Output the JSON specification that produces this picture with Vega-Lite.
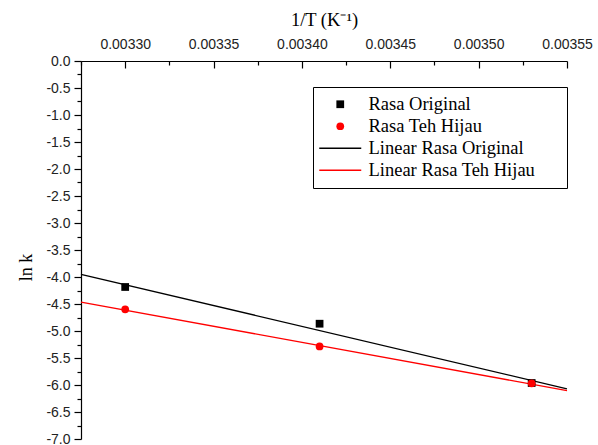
{
  "$schema": "https://vega.github.io/schema/vega-lite/v6.json",
  "width": 486,
  "height": 378,
  "autosize": "none",
  "padding": {"left": 81, "top": 61, "right": 31, "bottom": 6},
  "background": "white",
  "config": {
    "view": {"stroke": null},
    "axis": {"grid": false, "domainColor": "black", "tickColor": "black", "domainWidth": 1.2, "tickWidth": 1.2},
    "legend": {
      "symbolSize": 1764,
      "labelFont": "Liberation Serif",
      "labelFontSize": 18.5,
      "labelColor": "black",
      "labelLimit": 500,
      "labelOffset": 19,
      "symbolOffset": 10,
      "rowPadding": 3,
      "padding": 8,
      "strokeColor": "black",
      "symbolStrokeWidth": 1.3
    }
  },
  "layer": [
    {
      "data": {
        "values": [
          {"series": "Linear Rasa Original", "x": 0.003275, "y": -3.95},
          {"series": "Linear Rasa Original", "x": 0.00355, "y": -6.07},
          {"series": "Linear Rasa Teh Hijau", "x": 0.003275, "y": -4.465},
          {"series": "Linear Rasa Teh Hijau", "x": 0.00355, "y": -6.105}
        ]
      },
      "mark": {"type": "line", "strokeWidth": 1.3},
      "encoding": {
        "x": {
          "field": "x", "type": "quantitative",
          "scale": {"domain": [0.003275, 0.00355], "nice": false, "zero": false},
          "axis": {"orient": "top", "values": [0.003275, 0.003325, 0.003375, 0.003425, 0.003475, 0.003525], "labels": false, "domain": false, "tickSize": -4, "title": null}
        },
        "y": {
          "field": "y", "type": "quantitative",
          "scale": {"domain": [-7, 0], "nice": false, "zero": false},
          "axis": {"orient": "left", "values": [-0.25, -0.75, -1.25, -1.75, -2.25, -2.75, -3.25, -3.75, -4.25, -4.75, -5.25, -5.75, -6.25, -6.75], "labels": false, "domain": false, "tickSize": 4, "title": null}
        },
        "color": {
          "field": "series", "type": "nominal",
          "scale": {"domain": ["Rasa Original", "Rasa Teh Hijau", "Linear Rasa Original", "Linear Rasa Teh Hijau"], "range": ["black", "red", "black", "red"]},
          "legend": {
            "title": null, "orient": "none", "legendX": 232, "legendY": 26,
            "labelExpr": "datum.label + '\u00a0\u00a0\u00a0\u00a0\u00a0\u200b'",
            "encode": {"symbols": {"update": {
              "size": {"signal": "(datum.value == 'Rasa Original' || datum.value == 'Rasa Teh Hijau') ? 60 : 1764"},
              "fill": {"signal": "datum.value == 'Rasa Original' ? 'black' : (datum.value == 'Rasa Teh Hijau' ? 'red' : 'transparent')"},
              "stroke": {"signal": "(datum.value == 'Rasa Original' || datum.value == 'Linear Rasa Original') ? 'black' : 'red'"},
              "strokeWidth": {"signal": "(datum.value == 'Rasa Original' || datum.value == 'Rasa Teh Hijau') ? 0 : 1.3"},
              "opacity": {"value": 1}
            }}}
          }
        }
      }
    },
    {
      "data": {
        "values": [
          {"series": "Rasa Original", "x": 0.0033, "y": -4.185},
          {"series": "Rasa Original", "x": 0.00341, "y": -4.865},
          {"series": "Rasa Original", "x": 0.00353, "y": -5.963},
          {"series": "Rasa Teh Hijau", "x": 0.0033, "y": -4.598},
          {"series": "Rasa Teh Hijau", "x": 0.00341, "y": -5.285},
          {"series": "Rasa Teh Hijau", "x": 0.00353, "y": -5.968}
        ]
      },
      "mark": {"type": "point", "filled": true, "opacity": 1, "size": 60},
      "encoding": {
        "x": {
          "field": "x", "type": "quantitative",
          "axis": {
            "orient": "top",
            "values": [0.0033, 0.00335, 0.0034, 0.00345, 0.0035, 0.00355],
            "format": ".5f", "tickSize": -7, "labelPadding": 17, "labelFlush": false, "labelOverlap": false,
            "labelFont": "Liberation Sans", "labelFontSize": 14, "labelColor": "#222",
            "title": "1/T (K⁻¹)", "titleFont": "Liberation Serif", "titleFontSize": 18.5, "titleFontWeight": "normal", "titleColor": "black", "titlePadding": 8
          }
        },
        "y": {
          "field": "y", "type": "quantitative",
          "axis": {
            "orient": "left",
            "values": [0, -0.5, -1, -1.5, -2, -2.5, -3, -3.5, -4, -4.5, -5, -5.5, -6, -6.5, -7],
            "format": ".1f", "labelExpr": "replace(datum.label, '−', '-')",
            "tickSize": 7, "labelPadding": 4, "labelFlush": false, "labelOverlap": false,
            "labelFont": "Liberation Sans", "labelFontSize": 14, "labelColor": "#222",
            "title": "ln k", "titleFont": "Liberation Serif", "titleFontSize": 18, "titleFontWeight": "normal", "titleColor": "black", "titlePadding": 10, "titleY": 206
          }
        },
        "color": {"field": "series", "type": "nominal", "legend": {"title": null, "orient": "none", "legendX": 232, "legendY": 26}},
        "shape": {
          "field": "series", "type": "nominal",
          "scale": {"domain": ["Rasa Original", "Rasa Teh Hijau", "Linear Rasa Original", "Linear Rasa Teh Hijau"], "range": ["square", "circle", "stroke", "stroke"]},
          "legend": {"title": null, "orient": "none", "legendX": 232, "legendY": 26}
        }
      }
    }
  ],
  "resolve": {"axis": {"x": "independent", "y": "independent"}}
}
